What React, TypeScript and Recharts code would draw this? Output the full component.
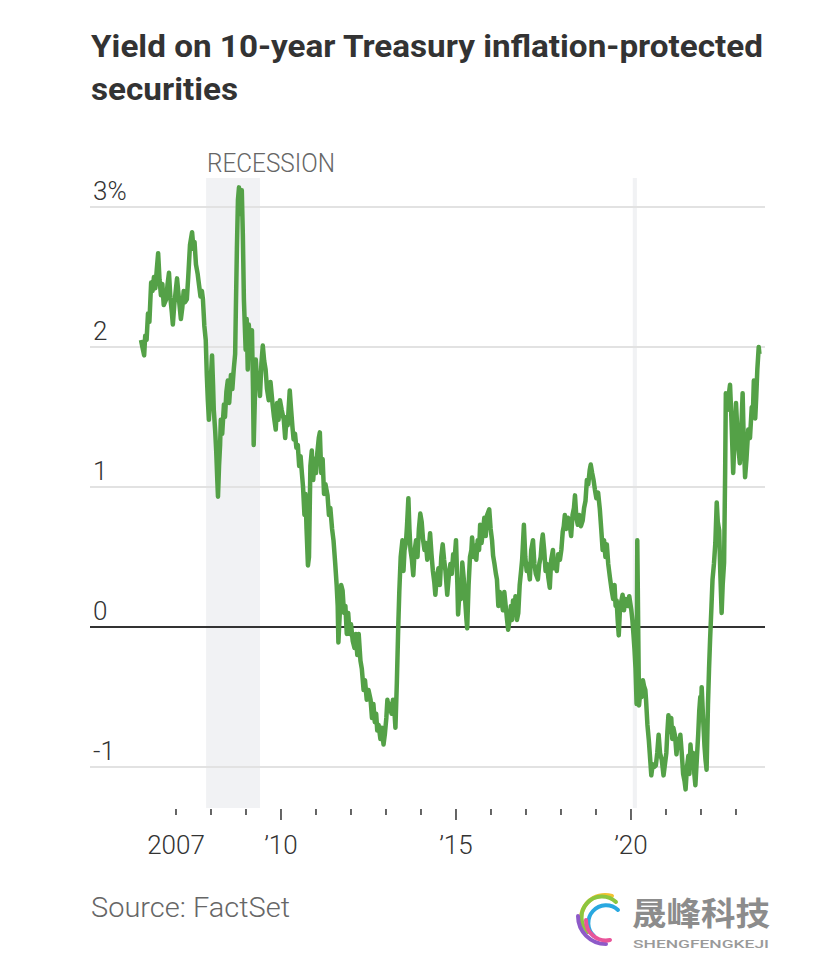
import React from 'react';
import { LineChart, Line, XAxis, YAxis, ReferenceArea, ReferenceLine } from 'recharts';

// decimal year of each reading, one row per calendar year
const dates = [
  2006.00, 2006.04, 2006.09, 2006.12, 2006.16, 2006.20, 2006.24, 2006.29, 2006.33, 2006.37, 2006.41, 2006.45, 2006.49, 2006.53, 2006.57, 2006.61, 2006.65, 2006.72, 2006.76, 2006.80, 2006.84, 2006.88, 2006.91, 2006.95,
  2007.00, 2007.03, 2007.07, 2007.10, 2007.14, 2007.18, 2007.22, 2007.26, 2007.31, 2007.35, 2007.40, 2007.46, 2007.50, 2007.53, 2007.57, 2007.62, 2007.66, 2007.70, 2007.74, 2007.77, 2007.81, 2007.85, 2007.88, 2007.91, 2007.94, 2007.98,
  2008.03, 2008.06, 2008.08, 2008.12, 2008.15, 2008.18, 2008.20, 2008.23, 2008.26, 2008.28, 2008.32, 2008.37, 2008.40, 2008.44, 2008.48, 2008.52, 2008.57, 2008.61, 2008.65, 2008.69, 2008.71, 2008.74, 2008.77, 2008.80, 2008.84, 2008.88, 2008.91, 2008.94, 2008.99,
  2009.02, 2009.05, 2009.08, 2009.12, 2009.17, 2009.20, 2009.22, 2009.25, 2009.28, 2009.32, 2009.36, 2009.40, 2009.44, 2009.48, 2009.52, 2009.56, 2009.60, 2009.65, 2009.70, 2009.76, 2009.80, 2009.85, 2009.89, 2009.93, 2009.97,
  2010.02, 2010.08, 2010.12, 2010.16, 2010.19, 2010.25, 2010.29, 2010.33, 2010.36, 2010.40, 2010.44, 2010.48, 2010.52, 2010.56, 2010.60, 2010.63, 2010.67, 2010.70, 2010.73, 2010.77, 2010.80, 2010.84, 2010.88, 2010.92, 2010.96,
  2011.00, 2011.04, 2011.08, 2011.11, 2011.15, 2011.19, 2011.23, 2011.27, 2011.33, 2011.37, 2011.41, 2011.46, 2011.50, 2011.55, 2011.59, 2011.62, 2011.64, 2011.68, 2011.72, 2011.76, 2011.80, 2011.84, 2011.88, 2011.92, 2011.96,
  2012.00, 2012.05, 2012.10, 2012.14, 2012.18, 2012.22, 2012.27, 2012.31, 2012.36, 2012.40, 2012.45, 2012.50, 2012.56, 2012.60, 2012.64, 2012.68, 2012.72, 2012.75, 2012.79, 2012.84, 2012.88, 2012.93, 2012.97,
  2013.01, 2013.04, 2013.08, 2013.12, 2013.16, 2013.20, 2013.24, 2013.27, 2013.31, 2013.35, 2013.38, 2013.42, 2013.47, 2013.50, 2013.53, 2013.57, 2013.60, 2013.64, 2013.67, 2013.70, 2013.74, 2013.78, 2013.82, 2013.86, 2013.90, 2013.94, 2013.98,
  2014.02, 2014.06, 2014.10, 2014.14, 2014.18, 2014.22, 2014.26, 2014.30, 2014.34, 2014.38, 2014.41, 2014.45, 2014.50, 2014.54, 2014.58, 2014.62, 2014.66, 2014.70, 2014.75, 2014.79, 2014.84, 2014.88, 2014.92, 2014.96,
  2015.00, 2015.04, 2015.06, 2015.10, 2015.14, 2015.18, 2015.22, 2015.26, 2015.30, 2015.32, 2015.36, 2015.40, 2015.44, 2015.46, 2015.50, 2015.54, 2015.58, 2015.62, 2015.66, 2015.69, 2015.73, 2015.77, 2015.81, 2015.85, 2015.89, 2015.95, 2015.99,
  2016.03, 2016.06, 2016.10, 2016.14, 2016.17, 2016.21, 2016.25, 2016.29, 2016.34, 2016.38, 2016.42, 2016.46, 2016.49, 2016.53, 2016.57, 2016.60, 2016.63, 2016.67, 2016.70, 2016.74, 2016.78, 2016.82, 2016.86, 2016.89, 2016.94, 2016.98,
  2017.02, 2017.06, 2017.11, 2017.15, 2017.20, 2017.24, 2017.28, 2017.34, 2017.38, 2017.42, 2017.45, 2017.48, 2017.52, 2017.56, 2017.60, 2017.64, 2017.68, 2017.72, 2017.77, 2017.80, 2017.84, 2017.88, 2017.92, 2017.97,
  2018.01, 2018.05, 2018.08, 2018.11, 2018.15, 2018.20, 2018.25, 2018.29, 2018.33, 2018.37, 2018.40, 2018.44, 2018.48, 2018.52, 2018.57, 2018.62, 2018.66, 2018.70, 2018.74, 2018.78, 2018.82, 2018.85, 2018.89, 2018.93, 2018.97,
  2019.01, 2019.06, 2019.11, 2019.15, 2019.19, 2019.23, 2019.27, 2019.31, 2019.35, 2019.40, 2019.45, 2019.49, 2019.53, 2019.56, 2019.59, 2019.62, 2019.65, 2019.68, 2019.72, 2019.76, 2019.80, 2019.84, 2019.87, 2019.91, 2019.95,
  2020.01, 2020.04, 2020.07, 2020.10, 2020.13, 2020.16, 2020.18, 2020.21, 2020.23, 2020.27, 2020.30, 2020.34, 2020.37, 2020.41, 2020.43, 2020.47, 2020.51, 2020.55, 2020.58, 2020.62, 2020.66, 2020.71, 2020.75, 2020.79, 2020.83, 2020.88, 2020.93, 2020.97,
  2021.01, 2021.04, 2021.07, 2021.11, 2021.15, 2021.18, 2021.21, 2021.26, 2021.30, 2021.34, 2021.38, 2021.41, 2021.45, 2021.49, 2021.53, 2021.56, 2021.60, 2021.64, 2021.67, 2021.70, 2021.74, 2021.78, 2021.81, 2021.84, 2021.88, 2021.92, 2021.95, 2021.98,
  2022.00, 2022.02, 2022.06, 2022.10, 2022.13, 2022.16, 2022.20, 2022.23, 2022.26, 2022.30, 2022.33, 2022.37, 2022.41, 2022.45, 2022.48, 2022.52, 2022.55, 2022.59, 2022.62, 2022.66, 2022.69, 2022.71, 2022.75, 2022.79, 2022.83, 2022.86, 2022.88, 2022.92, 2022.96,
  2023.00, 2023.03, 2023.05, 2023.08, 2023.11, 2023.15, 2023.19, 2023.22, 2023.26, 2023.30, 2023.35, 2023.40, 2023.45, 2023.48, 2023.51, 2023.55, 2023.58, 2023.61, 2023.65, 2023.67,
];

// 10-year TIPS yield, percent (same rows as dates)
const yields = [
  2.05, 2.00, 1.94, 2.08, 2.05, 2.24, 2.18, 2.46, 2.40, 2.50, 2.42, 2.55, 2.67, 2.48, 2.37, 2.45, 2.30, 2.34, 2.45, 2.53, 2.35, 2.25, 2.16, 2.30,
  2.42, 2.49, 2.38, 2.30, 2.20, 2.28, 2.40, 2.32, 2.34, 2.50, 2.73, 2.82, 2.70, 2.75, 2.59, 2.52, 2.44, 2.36, 2.40, 2.34, 2.15, 2.05, 1.80, 1.62, 1.48, 1.70,
  1.94, 1.72, 1.55, 1.40, 1.25, 1.05, 0.93, 1.15, 1.30, 1.48, 1.38, 1.59, 1.50, 1.68, 1.76, 1.60, 1.80, 1.70, 1.84, 1.95, 2.26, 2.70, 3.05, 3.14, 2.95, 3.12, 2.80, 2.34, 1.98,
  2.20, 1.84, 2.16, 2.00, 2.12, 1.70, 1.30, 1.60, 1.91, 1.75, 1.80, 1.65, 1.88, 2.01, 1.90, 1.84, 1.70, 1.62, 1.75, 1.59, 1.50, 1.41, 1.60, 1.48, 1.62,
  1.55, 1.48, 1.35, 1.50, 1.44, 1.69, 1.55, 1.42, 1.34, 1.38, 1.28, 1.30, 1.15, 1.22, 1.09, 1.00, 0.80, 0.95, 0.70, 0.44, 0.50, 1.15, 1.26, 1.05, 1.20,
  1.10, 1.25, 1.35, 1.39, 1.10, 1.20, 0.95, 1.02, 0.94, 0.80, 0.85, 0.70, 0.62, 0.45, 0.30, 0.15, -0.11, 0.10, 0.30, 0.26, 0.10, 0.15, -0.05, 0.10, -0.05,
  0.02, -0.10, -0.15, -0.05, -0.20, -0.05, -0.24, -0.30, -0.45, -0.38, -0.52, -0.45, -0.52, -0.65, -0.55, -0.68, -0.62, -0.74, -0.70, -0.80, -0.72, -0.84, -0.76,
  -0.65, -0.52, -0.60, -0.55, -0.62, -0.52, -0.60, -0.72, -0.40, 0.00, 0.25, 0.50, 0.62, 0.40, 0.55, 0.60, 0.72, 0.92, 0.70, 0.55, 0.48, 0.37, 0.55, 0.62, 0.50, 0.70, 0.81,
  0.75, 0.62, 0.55, 0.60, 0.48, 0.55, 0.67, 0.52, 0.40, 0.32, 0.23, 0.35, 0.42, 0.30, 0.50, 0.59, 0.48, 0.40, 0.23, 0.35, 0.45, 0.38, 0.52, 0.48,
  0.62, 0.30, 0.09, 0.25, 0.20, 0.46, 0.35, 0.20, 0.05, -0.01, 0.30, 0.50, 0.55, 0.64, 0.50, 0.58, 0.48, 0.62, 0.55, 0.73, 0.60, 0.68, 0.78, 0.65, 0.80, 0.84, 0.70,
  0.62, 0.51, 0.45, 0.38, 0.34, 0.15, 0.25, 0.20, 0.12, 0.25, 0.15, 0.05, -0.02, 0.05, 0.15, 0.05, 0.19, 0.10, 0.22, 0.05, 0.10, 0.30, 0.40, 0.48, 0.73, 0.50,
  0.40, 0.45, 0.34, 0.55, 0.62, 0.45, 0.38, 0.34, 0.45, 0.50, 0.60, 0.66, 0.55, 0.40, 0.45, 0.35, 0.28, 0.48, 0.55, 0.42, 0.48, 0.40, 0.52, 0.48,
  0.55, 0.68, 0.72, 0.80, 0.70, 0.78, 0.73, 0.65, 0.80, 0.85, 0.94, 0.78, 0.73, 0.80, 0.72, 0.76, 0.85, 0.90, 1.05, 1.02, 1.12, 1.16, 1.10, 1.05, 0.98,
  0.92, 0.96, 0.84, 0.70, 0.55, 0.62, 0.50, 0.59, 0.45, 0.35, 0.26, 0.20, 0.30, 0.15, 0.19, 0.05, -0.06, 0.10, 0.18, 0.23, 0.12, 0.20, 0.19, 0.15, 0.22,
  0.12, 0.05, -0.05, -0.16, -0.30, -0.55, 0.62, -0.10, -0.56, -0.45, -0.50, -0.38, -0.42, -0.45, -0.52, -0.70, -0.81, -0.95, -1.06, -0.98, -1.00, -0.99, -0.90, -0.77, -0.90, -0.95, -1.06, -0.98,
  -0.90, -0.75, -0.63, -0.75, -0.65, -0.80, -0.72, -0.78, -0.91, -0.80, -0.85, -0.77, -0.90, -1.05, -1.10, -1.16, -1.00, -0.92, -1.05, -0.84, -0.98, -0.90, -1.05, -1.13, -0.95, -0.77, -0.60, -0.50,
  -0.60, -0.43, -0.65, -0.85, -0.95, -1.02, -0.55, -0.30, -0.09, 0.15, 0.34, 0.45, 0.60, 0.89, 0.75, 0.69, 0.40, 0.10, 0.30, 0.46, 1.10, 1.67, 1.55, 1.65, 1.73, 1.55, 1.41, 1.10, 1.35,
  1.60, 1.45, 1.34, 1.25, 1.17, 1.40, 1.67, 1.35, 1.07, 1.20, 1.41, 1.35, 1.57, 1.50, 1.76, 1.49, 1.65, 1.84, 2.00, 1.95,
];

const yTicks = [-1, 0, 1, 2, 3];
const gridValues = [-1, 1, 2, 3];
const xTicks = [2007, 2008, 2009, 2010, 2011, 2012, 2013, 2014, 2015, 2016, 2017, 2018, 2019, 2020, 2021, 2022, 2023];
const xLabels: Record<number, string> = { 2007: '2007', 2010: '\u201910', 2015: '\u201915', 2020: '\u201920' };
const majorYears = [2010, 2015, 2020];
const recessions = [
  [2007.86, 2009.4],
  [2020.05, 2020.17],
];

const FONT = 'Roboto, "Noto Sans", sans-serif';
const GREEN = '#54a147';

const data = dates.map((t, i) => ({ t, y: yields[i] }));

const XTick = (props: any) => {
  const { x, y, payload } = props;
  const major = majorYears.includes(payload.value);
  const label = xLabels[payload.value];
  return (
    <g>
      <line x1={x} x2={x} y1={y + 1} y2={y + (major ? 12 : 7)} stroke="#333" strokeWidth={1.5} />
      {label && (
        <text x={x} y={y + 46} textAnchor="middle" fontFamily={FONT} fontWeight={300} fontSize={26} fill="#333">
          {label}
        </text>
      )}
    </g>
  );
};

const YTick = (props: any) => {
  const { x, y, payload } = props;
  const label = payload.value === 3 ? '3%' : String(payload.value);
  return (
    <text x={x + 3} y={y - 7} textAnchor="start" fontFamily={FONT} fontWeight={300} fontSize={26} fill="#333">
      {label}
    </text>
  );
};

export default function App() {
  return (
    <div style={{ position: 'absolute', left: 0, top: 0, width: 824, height: 954, background: '#fff', overflow: 'hidden' }}>
      <div style={{ position: 'absolute', left: 0, top: 0 }}>
        <LineChart width={824} height={870} data={data} margin={{ top: 178, right: 59, left: 89, bottom: 0 }}>
          {recessions.map(([a, b], i) => (
            <ReferenceArea key={i} x1={a} x2={b} fill="#dfe2e6" fillOpacity={0.45} stroke="none" ifOverflow="visible" />
          ))}
          {gridValues.map((v) => (
            <ReferenceLine key={v} y={v} stroke="#e2e2e2" strokeWidth={2} />
          ))}
          <XAxis
            dataKey="t"
            type="number"
            domain={[2004.543, 2023.829]}
            ticks={xTicks}
            interval={0}
            allowDataOverflow
            axisLine={false}
            tickLine={false}
            tickSize={0}
            tickMargin={0}
            height={62}
            tick={(p: any) => <XTick {...p} />}
          />
          <YAxis
            type="number"
            domain={[-1.293, 3.207]}
            ticks={yTicks}
            interval={0}
            allowDataOverflow
            axisLine={false}
            tickLine={false}
            tickSize={0}
            tickMargin={0}
            width={1}
            tick={(p: any) => <YTick {...p} />}
          />
          <ReferenceLine y={0} stroke="#333" strokeWidth={2} />
          <Line
            type="linear"
            dataKey="y"
            stroke={GREEN}
            strokeWidth={4.5}
            strokeLinejoin="round"
            dot={false}
            activeDot={false}
            isAnimationActive={false}
          />
        </LineChart>
      </div>
      <svg width={824} height={954} style={{ position: 'absolute', left: 0, top: 0, pointerEvents: 'none' }}>
        <text x={91} y={57} fontFamily={FONT} fontWeight={700} fontSize={31} fill="#333" textLength={672} lengthAdjust="spacingAndGlyphs">
          Yield on 10-year Treasury inflation-protected
        </text>
        <text x={91} y={100} fontFamily={FONT} fontWeight={700} fontSize={31} fill="#333" textLength={147} lengthAdjust="spacingAndGlyphs">
          securities
        </text>
        <text x={207} y={172} fontFamily={FONT} fontWeight={300} fontSize={26} fill="#666" textLength={128} lengthAdjust="spacingAndGlyphs">
          RECESSION
        </text>
        <text x={91} y={917} fontFamily={FONT} fontWeight={300} fontSize={27} fill="#666" textLength={199} lengthAdjust="spacingAndGlyphs">
          Source: FactSet
        </text>
        {/* watermark */}
        <g fill="none" strokeWidth={4} strokeLinecap="round">
          <path d="M 582 926 A 24 24 0 0 1 612 896" stroke="#f2c230" />
          <path d="M 588 932 A 20 20 0 0 1 616 902" stroke="#8cc63f" />
          <path d="M 594 936 A 16 16 0 0 1 618 910" stroke="#29a8e0" />
          <path d="M 578 916 A 28 28 0 0 0 606 944" stroke="#8e5ac8" />
          <path d="M 586 920 A 20 20 0 0 0 610 940" stroke="#e8559a" />
        </g>
        <text x={632} y={925} fontFamily='"Noto Sans CJK SC"' fontWeight={700} fontSize={32} fill="#8c8c8c" textLength={138} lengthAdjust="spacingAndGlyphs">
          晟峰科技
        </text>
        <text x={633} y={948} fontFamily={FONT} fontWeight={500} fontSize={11} fill="#9a9a9a" textLength={136} lengthAdjust="spacingAndGlyphs">
          SHENGFENGKEJI
        </text>
      </svg>
    </div>
  );
}
